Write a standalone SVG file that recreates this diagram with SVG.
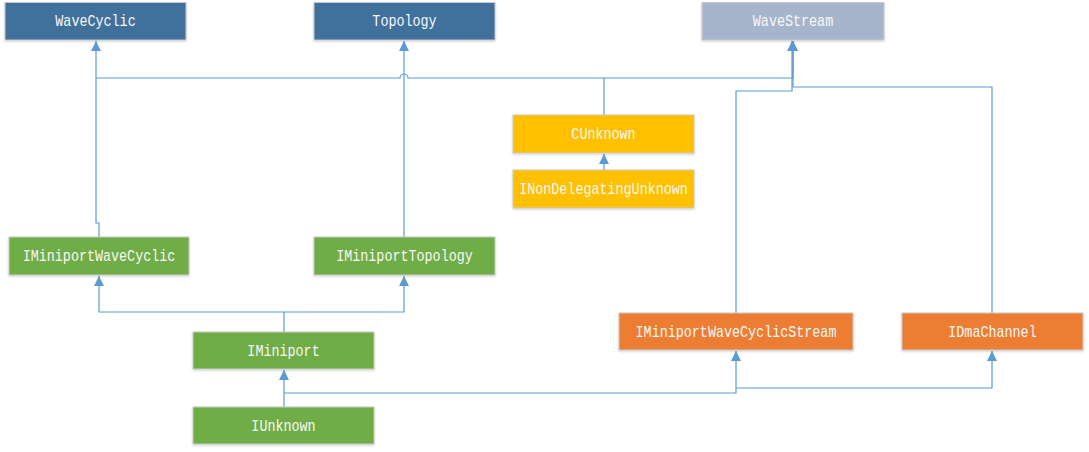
<svg xmlns="http://www.w3.org/2000/svg" width="1089" height="452" viewBox="0 0 1089 452">
<style>
.box{stroke:#c9c9c9;stroke-width:1;filter:url(#sh)}
.blue{fill:#41719C}
.grey{fill:#A6B5CC}
.yellow{fill:#FFC000}
.green{fill:#70AD47}
.orange{fill:#ED7D31}
.lbl{font-family:"Liberation Mono","DejaVu Sans Mono",monospace;font-size:13.4px;fill:#f8f8f8;text-anchor:middle}
.c{fill:none;stroke:#5B9BD5;stroke-width:1.2}
</style>
<defs>
<filter id="sh" x="-10%" y="-30%" width="120%" height="160%">
<feDropShadow dx="0" dy="1" stdDeviation="1.2" flood-color="#000" flood-opacity="0.2"/>
</filter>
<marker id="arr" markerUnits="userSpaceOnUse" viewBox="0 0 10 10" markerWidth="10" markerHeight="10" refX="10" refY="5" orient="auto">
<path d="M0,0 L10,5 L0,10 z" fill="#5B9BD5"/>
</marker>
</defs>
<rect width="1089" height="452" fill="#ffffff"/>
<g id="connectors">
<path class="c" d="M99,237 V223 H96 V41" marker-end="url(#arr)"/>
<path class="c" d="M604,115 V78 H408 a4,4 0 0 0 -8,0 H96"/>
<path class="c" d="M604,78 H793 V41" marker-end="url(#arr)"/>
<path class="c" d="M404,237 V41" marker-end="url(#arr)"/>
<path class="c" d="M604,170 V154" marker-end="url(#arr)"/>
<path class="c" d="M736,313 V91 H792 V41" marker-end="url(#arr)"/>
<path class="c" d="M992,313 V87 H793 V41" marker-end="url(#arr)"/>
<path class="c" d="M284,332 V312 H99 V276" marker-end="url(#arr)"/>
<path class="c" d="M284,312 H404 V276" marker-end="url(#arr)"/>
<path class="c" d="M284,407 V370" marker-end="url(#arr)"/>
<path class="c" d="M284,393 H736 V351" marker-end="url(#arr)"/>
<path class="c" d="M736,388 H992 V351" marker-end="url(#arr)"/>
</g>
<g id="WaveCyclic"><rect class="box blue" x="5" y="2.5" width="181" height="37.5"/><text class="lbl" transform="translate(95.5,26) scale(1,1.25)">WaveCyclic</text></g>
<g id="Topology"><rect class="box blue" x="314" y="2.5" width="181" height="37.5"/><text class="lbl" transform="translate(404.5,26) scale(1,1.25)">Topology</text></g>
<g id="WaveStream"><rect class="box grey" x="702" y="2.5" width="182" height="37.5"/><text class="lbl" transform="translate(793,26) scale(1,1.25)">WaveStream</text></g>
<g id="CUnknown"><rect class="box yellow" x="513" y="115" width="181" height="38"/><text class="lbl" transform="translate(603.5,139) scale(1,1.25)">CUnknown</text></g>
<g id="INonDelegatingUnknown"><rect class="box yellow" x="513" y="170" width="181" height="38"/><text class="lbl" transform="translate(603.5,194) scale(1,1.25)">INonDelegatingUnknown</text></g>
<g id="IMiniportWaveCyclic"><rect class="box green" x="9" y="237" width="180" height="38"/><text class="lbl" transform="translate(99,261) scale(1,1.25)">IMiniportWaveCyclic</text></g>
<g id="IMiniportTopology"><rect class="box green" x="314" y="237" width="181" height="38"/><text class="lbl" transform="translate(404.5,261) scale(1,1.25)">IMiniportTopology</text></g>
<g id="IMiniport"><rect class="box green" x="193" y="332" width="181" height="37"/><text class="lbl" transform="translate(283.5,355.5) scale(1,1.25)">IMiniport</text></g>
<g id="IUnknown"><rect class="box green" x="193" y="407" width="181" height="37"/><text class="lbl" transform="translate(283.5,430.5) scale(1,1.25)">IUnknown</text></g>
<g id="IMiniportWaveCyclicStream"><rect class="box orange" x="619" y="313" width="234" height="37"/><text class="lbl" transform="translate(736,336.5) scale(1,1.25)">IMiniportWaveCyclicStream</text></g>
<g id="IDmaChannel"><rect class="box orange" x="902" y="313" width="181" height="37"/><text class="lbl" transform="translate(992.5,336.5) scale(1,1.25)">IDmaChannel</text></g>
</svg>
